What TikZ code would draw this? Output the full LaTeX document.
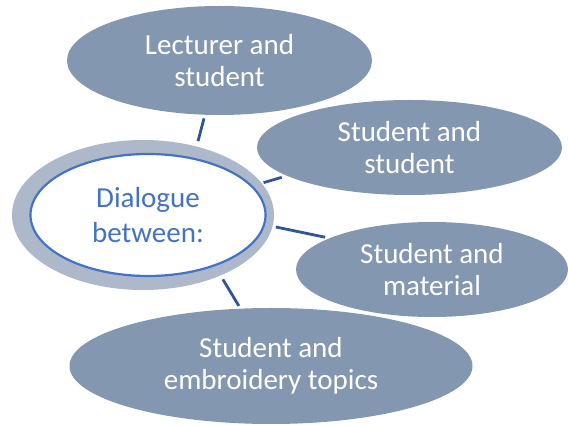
\documentclass[tikz,border=0pt]{standalone}
\usepackage{fontspec}
\setmainfont{Carlito}
\usetikzlibrary{shapes.geometric}
\definecolor{slategray}{HTML}{8497B0}
\definecolor{ringgray}{HTML}{ADB9CA}
\definecolor{accentblue}{HTML}{4472C4}
\definecolor{linkblue}{HTML}{2F5597}
\tikzset{bubble/.style={ellipse, fill=slategray, text=white, inner sep=0pt, align=center, font=\fontsize{29}{31.5}\selectfont},
         link/.style={draw=linkblue, line width=2.8pt}}

\begin{document}
\begin{tikzpicture}[x=1pt, y=-1pt]
     \useasboundingbox (0,0) rectangle (568,427);
     \node [bubble, minimum width=305pt, minimum height=109pt] (lecturer) at (219.5,60.5) {Lecturer and\\student};
     \node [bubble, minimum width=305pt, minimum height=95pt] (students) at (409.5,147.5) {Student and\\student};
     \node [bubble, minimum width=272pt, minimum height=95pt] (material) at (432,269.5) {Student and\\material};
     \node [bubble, minimum width=403pt, minimum height=116pt] (topics) at (271,366) {Student and\\embroidery topics};
     \node [ellipse, fill=ringgray, minimum width=262pt, minimum height=150pt] (ring) at (143,215) {};
     \node [ellipse, fill=white, draw=accentblue, line width=2.2pt, text=accentblue, inner sep=0pt, align=center, font=\fontsize{29}{35}\selectfont, minimum width=235pt, minimum height=122pt] (dialogue) at (148,215) {Dialogue\\between:};
     \draw [link, shorten <=5.4pt, shorten >=3.6pt] (ring.52.5) -- (lecturer.255);
     \draw [link, shorten <=1.8pt, shorten >=5.2pt] (ring.15.9) -- (students.193);
     \draw [link, shorten <=3.2pt, shorten >=4.4pt] (ring.355.7) -- (material.163.9);
     \draw [link, shorten <=4.3pt, shorten >=3pt] (ring.322.1) -- (topics.118.1);
\end{tikzpicture}
\end{document}
